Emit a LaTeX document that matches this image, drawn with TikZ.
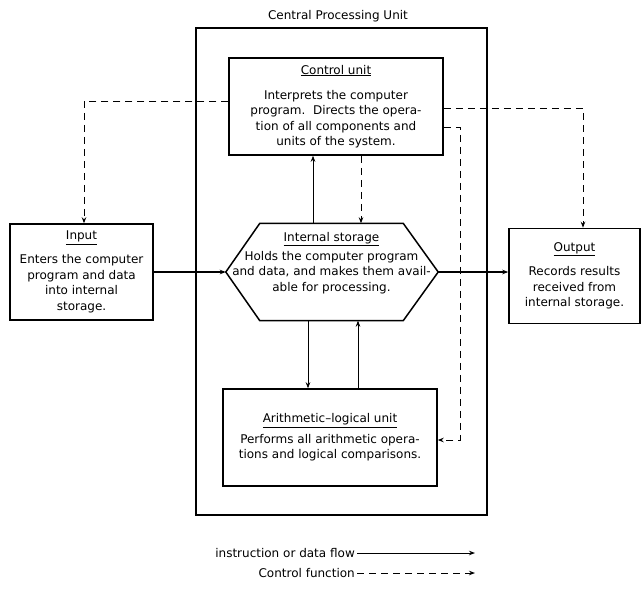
\documentclass[tikz,border=0pt]{standalone}
\usepackage{fontspec}
\setmainfont{DejaVu Sans}
\usetikzlibrary{arrows.meta}
\begin{document}
\begin{tikzpicture}[x=1pt,y=-1pt,
  box/.style={draw,line width=1.5pt,inner sep=0pt,align=center,font=\fontsize{12}{15.5}\selectfont},
  txt/.style={align=center,font=\fontsize{12}{15.5}\selectfont,inner sep=0pt},
  flow/.style={line width=1.4pt,-{Stealth[length=6pt,width=4.5pt]}},
  thinflow/.style={line width=0.7pt,-{Stealth[length=6pt,width=4.5pt]}},
  ctl/.style={line width=1pt,dash pattern=on 7pt off 5pt,-{Stealth[length=6pt,width=4.5pt]}}]
\useasboundingbox (0,0) rectangle (644,603);
% CPU frame
\node[draw,line width=1.6pt,minimum width=291pt,minimum height=487pt,inner sep=0pt] (cpu) at (341.5,271.5) {};
\node[txt,anchor=base] (cputitle) at (338,19) {Central Processing Unit};
% boxes
\node[box,minimum width=214pt,minimum height=97pt] (ctrl) at (336,106.5)
  {\underline{Control unit}\\[9.5pt]Interprets the computer\\program.\ \ Directs the opera-\\tion of all components and\\units of the system.};
\node[box,minimum width=143pt,minimum height=96pt] (input) at (81.5,272)
  {\underline{Input}\\[8.5pt]Enters the computer\\program and data\\into internal\\storage.};
\node[box,minimum width=131pt,minimum height=95pt] (output) at (574.5,276)
  {\underline{Output}\\[8.5pt]Records results\\received from\\internal storage.};
\node[box,minimum width=214pt,minimum height=97pt] (alu) at (330,437.5)
  {\underline{Arithmetic–logical unit}\\[5pt]Performs all arithmetic opera-\\tions and logical comparisons.};
% internal storage hexagon
\node[minimum width=143pt,minimum height=97pt,inner sep=0pt] (stor) at (331.5,272) {};
\coordinate (sl) at ([xshift=-34pt]stor.west);
\coordinate (sr) at ([xshift=35pt]stor.east);
\draw[line width=1.5pt,line join=miter] (stor.north west) -- (stor.north east) -- (sr) -- (stor.south east) -- (stor.south west) -- (sl) -- cycle;
\node[txt] (stortext) at (331.5,263) {\underline{Internal storage}\\[3pt]Holds the computer program\\and data, and makes them avail-\\able for processing.};
% data flow
\draw[flow] (input.east) -- (sl);
\draw[flow] (sr) -- (sr -| output.west);
\draw[thinflow] ([xshift=-18.5pt]stor.north) -- ([xshift=-18.5pt]stor.north |- ctrl.south);
\draw[thinflow] ([xshift=-23.5pt]stor.south) -- ([xshift=-23.5pt]stor.south |- alu.north);
\draw[thinflow] ([xshift=28pt]alu.north) -- ([xshift=28pt]alu.north |- stor.south);
% control
\draw[ctl] ([xshift=25pt]ctrl.south) -- ([xshift=25pt]ctrl.south |- stor.north);
\draw[ctl] ([yshift=5.5pt]ctrl.west) -| ([xshift=2.5pt]input.north);
\draw[ctl] ([yshift=-2pt]ctrl.east) -| ([xshift=8.5pt]output.north);
\coordinate (bend) at (460,127);
\draw[ctl] (ctrl.east |- bend) -- (bend) |- ([yshift=-2.5pt]alu.east);
% legend
\node[txt,anchor=east] (leg1) at (355,553) {instruction or data flow};
\node[txt,anchor=east] (leg2) at (355,573) {Control function};
\coordinate (legend) at (475,0);
\draw[flow,line width=1pt] ([xshift=2pt]leg1.east) -- (leg1.east -| legend);
\draw[ctl] ([xshift=2pt]leg2.east) -- (leg2.east -| legend);
\end{tikzpicture}
\end{document}
